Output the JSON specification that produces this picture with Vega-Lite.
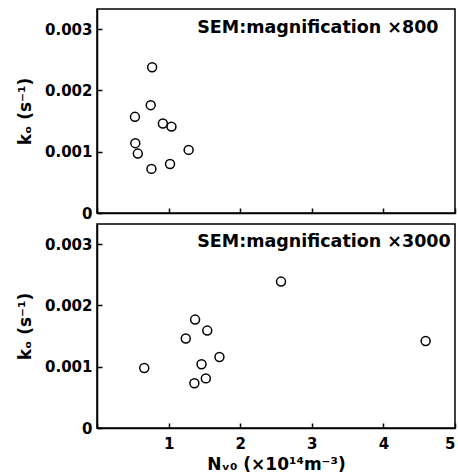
{
  "$schema": "https://vega.github.io/schema/vega-lite/v6.json",
  "autosize": {"type": "pad"},
  "padding": {"left": 15, "top": 8, "right": 2, "bottom": 2},
  "background": "white",
  "bounds": "flush",
  "spacing": 11,
  "datasets": {
    "pts": [
      {"panel": "a", "n": 0.77, "k": 0.00238},
      {"panel": "a", "n": 0.75, "k": 0.00176},
      {"panel": "a", "n": 0.53, "k": 0.00157},
      {"panel": "a", "n": 0.92, "k": 0.00146},
      {"panel": "a", "n": 1.04, "k": 0.00141},
      {"panel": "a", "n": 0.535, "k": 0.00114},
      {"panel": "a", "n": 0.57, "k": 0.00097},
      {"panel": "a", "n": 1.28, "k": 0.00103},
      {"panel": "a", "n": 1.02, "k": 0.00080},
      {"panel": "a", "n": 0.76, "k": 0.00072},
      {"panel": "b", "n": 0.66, "k": 0.00098},
      {"panel": "b", "n": 1.24, "k": 0.00146},
      {"panel": "b", "n": 1.37, "k": 0.00177},
      {"panel": "b", "n": 1.54, "k": 0.00159},
      {"panel": "b", "n": 1.71, "k": 0.00116},
      {"panel": "b", "n": 1.46, "k": 0.00104},
      {"panel": "b", "n": 1.52, "k": 0.00081},
      {"panel": "b", "n": 1.36, "k": 0.00073},
      {"panel": "b", "n": 2.57, "k": 0.00239},
      {"panel": "b", "n": 4.59, "k": 0.00142}
    ],
    "notes": [
      {"panel": "a", "n": 1.40, "k": 0.00294, "t": "SEM:magnification ×800"},
      {"panel": "b", "n": 1.40, "k": 0.00295, "t": "SEM:magnification ×3000"}
    ]
  },
  "config": {
    "view": {"stroke": "black", "strokeWidth": 1.5},
    "axis": {
      "grid": false,
      "domainColor": "black",
      "domainWidth": 1.5,
      "tickColor": "black",
      "tickWidth": 1.5,
      "tickSize": 5,
      "labelFont": "DejaVu Sans",
      "labelFontWeight": "bold",
      "labelFontSize": 15,
      "labelColor": "black",
      "titleFont": "DejaVu Sans",
      "titleFontWeight": "bold",
      "titleFontSize": 17,
      "titleColor": "black"
    }
  },
  "vconcat": [
    {
      "width": 358,
      "height": 204,
      "layer": [
        {
          "data": {"name": "pts"},
          "transform": [{"filter": "datum.panel == 'a'"}],
          "mark": {"type": "point", "shape": "circle", "filled": false, "color": "black", "strokeWidth": 1.5, "size": 80, "opacity": 1},
          "encoding": {
            "x": {"field": "n", "type": "quantitative", "scale": {"domain": [0, 5], "nice": false},
                  "axis": {"values": [0, 0.5, 1, 1.5, 2, 2.5, 3, 3.5, 4, 4.5, 5], "labels": false, "title": null,
                           "encoding": {"ticks": {"y2": {"value": -5}}}}},
            "y": {"field": "k", "type": "quantitative", "scale": {"domain": [0, 0.00333], "nice": false},
                  "axis": {"values": [0, 0.0005, 0.001, 0.0015, 0.002, 0.0025, 0.003], "labelPadding": 0, "titlePadding": 10,
                           "encoding": {"ticks": {"x2": {"value": 5}}},
                           "labelExpr": "datum.value == 0 ? '0' : (round(datum.value * 2000) % 2 == 0 ? format(datum.value, '.3f') : '')",
                           "title": "kₒ (s⁻¹)"}}
          }
        },
        {
          "data": {"name": "notes"},
          "transform": [{"filter": "datum.panel == 'a'"}],
          "mark": {"type": "text", "align": "left", "baseline": "alphabetic", "font": "DejaVu Sans", "fontWeight": "bold", "fontSize": 17.5, "color": "black"},
          "encoding": {
            "x": {"field": "n", "type": "quantitative"},
            "y": {"field": "k", "type": "quantitative"},
            "text": {"field": "t"}
          }
        }
      ]
    },
    {
      "width": 358,
      "height": 204,
      "layer": [
        {
          "data": {"name": "pts"},
          "transform": [{"filter": "datum.panel == 'b'"}],
          "mark": {"type": "point", "shape": "circle", "filled": false, "color": "black", "strokeWidth": 1.5, "size": 80, "opacity": 1},
          "encoding": {
            "x": {"field": "n", "type": "quantitative", "scale": {"domain": [0, 5], "nice": false},
                  "axis": {"values": [0, 0.5, 1, 1.5, 2, 2.5, 3, 3.5, 4, 4.5, 5], "labelPadding": 3.5, "titlePadding": 5,
                           "encoding": {"ticks": {"y2": {"value": -5}}},
                           "labelExpr": "datum.value == 0 ? '' : (datum.value % 1 == 0 ? format(datum.value, 'd') : '')",
                           "title": "Nᵥ₀ (×10¹⁴m⁻³)"}},
            "y": {"field": "k", "type": "quantitative", "scale": {"domain": [0, 0.00333], "nice": false},
                  "axis": {"values": [0, 0.0005, 0.001, 0.0015, 0.002, 0.0025, 0.003], "labelPadding": 0, "titlePadding": 10,
                           "encoding": {"ticks": {"x2": {"value": 5}}},
                           "labelExpr": "datum.value == 0 ? '0' : (round(datum.value * 2000) % 2 == 0 ? format(datum.value, '.3f') : '')",
                           "title": "kₒ (s⁻¹)"}}
          }
        },
        {
          "data": {"name": "notes"},
          "transform": [{"filter": "datum.panel == 'b'"}],
          "mark": {"type": "text", "align": "left", "baseline": "alphabetic", "font": "DejaVu Sans", "fontWeight": "bold", "fontSize": 17.5, "color": "black"},
          "encoding": {
            "x": {"field": "n", "type": "quantitative"},
            "y": {"field": "k", "type": "quantitative"},
            "text": {"field": "t"}
          }
        }
      ]
    }
  ]
}
